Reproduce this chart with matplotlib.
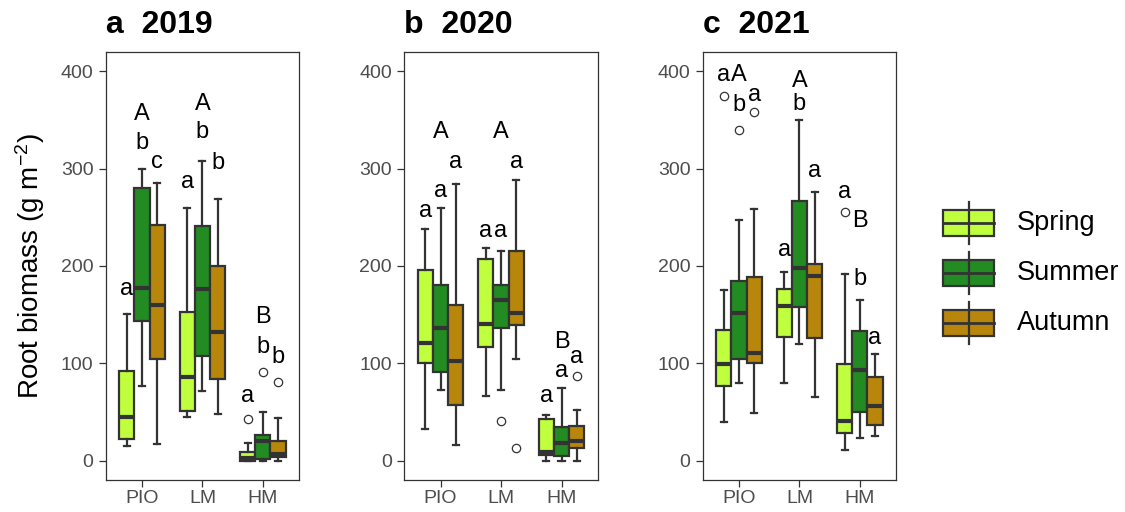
import matplotlib
matplotlib.use("Agg")
import matplotlib.pyplot as plt
from matplotlib.patches import Rectangle
from matplotlib.lines import Line2D

plt.rcParams['font.family'] = ['Liberation Sans', 'DejaVu Sans']
plt.rcParams['mathtext.fontset'] = 'custom'
plt.rcParams['mathtext.rm'] = 'Liberation Sans'
plt.rcParams['mathtext.it'] = 'Liberation Sans:italic'
plt.rcParams['mathtext.bf'] = 'Liberation Sans:bold'

sites = ["PIO", "LM", "HM"]
seasons = ["Spring", "Summer", "Autumn"]
season_colors = ["#C0FF3E", "#228B22", "#B8860B"]
years = ["2019", "2020", "2021"]
panel_tags = ["a", "b", "c"]

# five-number summaries per site (rows) and season (cols):
# [lower whisker, Q1, median, Q3, upper whisker]  (g m-2)
box_2019 = [
    [[15, 23, 45, 92, 151], [77, 144, 177, 280, 300], [17, 105, 160, 242, 285]],
    [[45, 51, 86, 153, 259], [72, 108, 176, 241, 308], [48, 84, 132, 200, 269]],
    [[0, 0, 3, 9, 18], [0, 2, 21, 27, 50], [0, 4, 7, 21, 44]],
]
fliers_2019 = [[[], [], []], [[], [], []], [[43], [91], [81]]]

box_2020 = [
    [[33, 100, 121, 196, 238], [73, 91, 136, 180, 259], [16, 57, 103, 160, 284]],
    [[67, 117, 141, 207, 218], [73, 136, 165, 180, 215], [105, 139, 152, 215, 288]],
    [[0, 6, 9, 43, 47], [0, 5, 18, 35, 75], [0, 13, 21, 36, 52]],
]
fliers_2020 = [[[], [], []], [[], [41], [13]], [[], [], [87]]]

box_2021 = [
    [[40, 77, 99, 134, 175], [80, 105, 152, 185, 247], [49, 100, 111, 189, 258]],
    [[80, 127, 159, 176, 194], [120, 158, 198, 267, 350], [66, 126, 190, 202, 276]],
    [[11, 29, 41, 99, 192], [24, 50, 93, 133, 165], [26, 37, 56, 86, 110]],
]
fliers_2021 = [[[374], [340], [358]], [[], [], []], [[255], [], []]]

# significance letters: (site, season, baseline height, letter)
letters_2019 = [
    (0, 0, 170, "a"), (0, 1, 349.5, "A"), (0, 1, 320.5, "b"), (0, 2, 301, "c"),
    (1, 0, 280, "a"), (1, 1, 359.5, "A"), (1, 1, 331.5, "b"), (1, 2, 299.5, "b"),
    (2, 0, 60, "a"), (2, 1, 141.5, "B"), (2, 1, 110.5, "b"), (2, 2, 100.5, "b"),
]
letters_2020 = [
    (0, 0, 250, "a"), (0, 1, 271, "a"), (0, 1, 331.5, "A"), (0, 2, 301, "a"),
    (1, 0, 230, "a"), (1, 1, 230, "a"), (1, 1, 331.5, "A"), (1, 2, 301, "a"),
    (2, 0, 60, "a"), (2, 1, 86, "a"), (2, 1, 115.5, "B"), (2, 2, 101, "a"),
]
letters_2021 = [
    (0, 0, 390, "a"), (0, 1, 390, "A"), (0, 1, 358.5, "b"), (0, 2, 369, "a"),
    (1, 0, 210, "a"), (1, 1, 383.5, "A"), (1, 1, 359.5, "b"), (1, 2, 291, "a"),
    (2, 0, 270, "a"), (2, 1, 240.5, "B"), (2, 1, 180.5, "b"), (2, 2, 120, "a"),
]

panels = [
    (box_2019, fliers_2019, letters_2019),
    (box_2020, fliers_2020, letters_2020),
    (box_2021, fliers_2021, letters_2021),
]

W, H = 1125, 512
fig = plt.figure(figsize=(W / 100, H / 100), dpi=100)

EDGE = "#333333"
offsets = [-0.25, 0.0, 0.25]
ax_lefts = [105.7, 404.3, 702.7]
ax_w, ax_top, ax_bot = 193.5, 52, 480

for k, (boxes, fliers, letters) in enumerate(panels):
    ax = fig.add_axes([ax_lefts[k] / W, 1 - ax_bot / H, ax_w / W, (ax_bot - ax_top) / H])
    for si in range(3):
        stats, pos = [], []
        for gi in range(3):
            lo, q1, med, q3, hi = boxes[gi][si]
            stats.append(dict(whislo=lo, q1=q1, med=med, q3=q3, whishi=hi,
                              fliers=fliers[gi][si]))
            pos.append(gi + 1 + offsets[si])
        ax.bxp(stats, positions=pos, widths=0.25, patch_artist=True,
               manage_ticks=False, capwidths=0.1,
               boxprops=dict(facecolor=season_colors[si], edgecolor=EDGE, linewidth=1.6),
               medianprops=dict(color=EDGE, linewidth=3.0, solid_capstyle='butt'),
               whiskerprops=dict(color=EDGE, linewidth=1.6),
               capprops=dict(color=EDGE, linewidth=1.6),
               flierprops=dict(marker='o', markerfacecolor='none', markeredgecolor=EDGE,
                               markersize=6, markeredgewidth=0.9))
    for gi, si, y, lab in letters:
        ax.text(gi + 1 + offsets[si], y, lab, ha='center', va='baseline',
                fontsize=17, color='black')

    ax.set_xlim(0.4, 3.6)
    ax.set_ylim(-19.5, 419.5)
    ax.set_xticks([1, 2, 3])
    ax.set_xticklabels(sites)
    ax.set_yticks([0, 100, 200, 300, 400])
    ax.tick_params(length=4.8, width=0.9, color=EDGE, labelsize=14,
                   labelcolor="#4D4D4D")
    ax.tick_params(axis='y', pad=4)
    ax.tick_params(axis='x', pad=2.2)
    for sp in ax.spines.values():
        sp.set_color(EDGE)
        sp.set_linewidth(0.9)
    ax.set_title(f"{panel_tags[k]}  {years[k]}", loc='left', fontsize=23,
                 fontweight='bold', pad=14)

fig.text(30 / W, 1 - 266 / H, "Root biomass (g m$^{-2}$)", rotation=90,
         ha='center', va='center', fontsize=20)

# legend keys drawn as miniature boxplots
leg = fig.add_axes([0, 0, 1, 1])
leg.set_xlim(0, W)
leg.set_ylim(H, 0)
leg.axis('off')
for si, name in enumerate(seasons):
    cy = 223 + 50 * si
    leg.add_line(Line2D([969, 969], [cy - 21, cy + 21], color=EDGE, lw=1.6))
    leg.add_patch(Rectangle((943, cy - 13.3), 51, 26.6, facecolor=season_colors[si],
                            edgecolor=EDGE, lw=1.6))
    leg.add_line(Line2D([943, 994], [cy, cy], color=EDGE, lw=2.0))
    leg.text(1017, cy, name, ha='left', va='center', fontsize=19.5)

fig.savefig("out.png", dpi=100)
